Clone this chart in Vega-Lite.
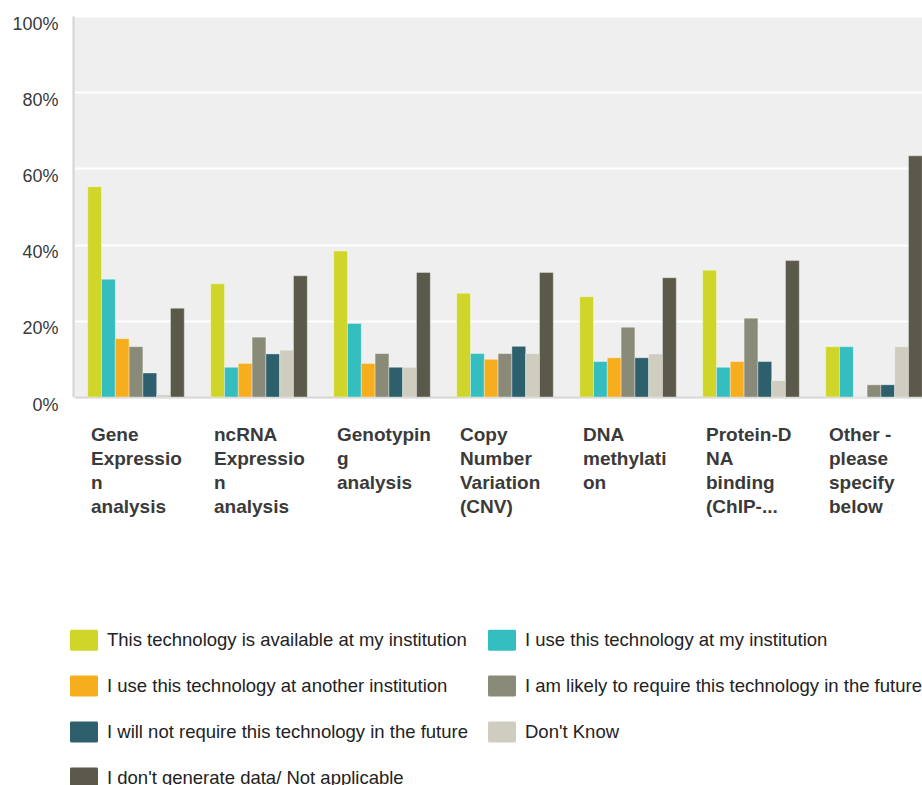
{
  "$schema": "https://vega.github.io/schema/vega-lite/v6.json",
  "width": 849,
  "height": 381,
  "autosize": {"type": "none"},
  "padding": {"left": 73, "top": 16, "right": 0, "bottom": 388},
  "background": "#ffffff",
  "config": {
    "font": "Liberation Sans",
    "view": {"fill": "#efefef", "stroke": null}
  },
  "data": {
    "values": [
      {"cat": "Gene Expression analysis", "s": "This technology is available at my institution", "v": 55.2},
      {"cat": "Gene Expression analysis", "s": "I use this technology at my institution", "v": 30.9},
      {"cat": "Gene Expression analysis", "s": "I use this technology at another institution", "v": 15.3},
      {"cat": "Gene Expression analysis", "s": "I am likely to require this technology in the future", "v": 13.2},
      {"cat": "Gene Expression analysis", "s": "I will not require this technology in the future", "v": 6.3},
      {"cat": "Gene Expression analysis", "s": "Don't Know", "v": 0.6},
      {"cat": "Gene Expression analysis", "s": "I don't generate data/ Not applicable", "v": 23.3},
      {"cat": "ncRNA Expression analysis", "s": "This technology is available at my institution", "v": 29.7},
      {"cat": "ncRNA Expression analysis", "s": "I use this technology at my institution", "v": 7.8},
      {"cat": "ncRNA Expression analysis", "s": "I use this technology at another institution", "v": 8.8},
      {"cat": "ncRNA Expression analysis", "s": "I am likely to require this technology in the future", "v": 15.7},
      {"cat": "ncRNA Expression analysis", "s": "I will not require this technology in the future", "v": 11.3},
      {"cat": "ncRNA Expression analysis", "s": "Don't Know", "v": 12.3},
      {"cat": "ncRNA Expression analysis", "s": "I don't generate data/ Not applicable", "v": 31.8},
      {"cat": "Genotyping analysis", "s": "This technology is available at my institution", "v": 38.3},
      {"cat": "Genotyping analysis", "s": "I use this technology at my institution", "v": 19.3},
      {"cat": "Genotyping analysis", "s": "I use this technology at another institution", "v": 8.8},
      {"cat": "Genotyping analysis", "s": "I am likely to require this technology in the future", "v": 11.4},
      {"cat": "Genotyping analysis", "s": "I will not require this technology in the future", "v": 7.8},
      {"cat": "Genotyping analysis", "s": "Don't Know", "v": 7.8},
      {"cat": "Genotyping analysis", "s": "I don't generate data/ Not applicable", "v": 32.7},
      {"cat": "Copy Number Variation (CNV)", "s": "This technology is available at my institution", "v": 27.2},
      {"cat": "Copy Number Variation (CNV)", "s": "I use this technology at my institution", "v": 11.4},
      {"cat": "Copy Number Variation (CNV)", "s": "I use this technology at another institution", "v": 9.9},
      {"cat": "Copy Number Variation (CNV)", "s": "I am likely to require this technology in the future", "v": 11.4},
      {"cat": "Copy Number Variation (CNV)", "s": "I will not require this technology in the future", "v": 13.3},
      {"cat": "Copy Number Variation (CNV)", "s": "Don't Know", "v": 11.4},
      {"cat": "Copy Number Variation (CNV)", "s": "I don't generate data/ Not applicable", "v": 32.7},
      {"cat": "DNA methylation", "s": "This technology is available at my institution", "v": 26.3},
      {"cat": "DNA methylation", "s": "I use this technology at my institution", "v": 9.3},
      {"cat": "DNA methylation", "s": "I use this technology at another institution", "v": 10.3},
      {"cat": "DNA methylation", "s": "I am likely to require this technology in the future", "v": 18.3},
      {"cat": "DNA methylation", "s": "I will not require this technology in the future", "v": 10.3},
      {"cat": "DNA methylation", "s": "Don't Know", "v": 11.3},
      {"cat": "DNA methylation", "s": "I don't generate data/ Not applicable", "v": 31.3},
      {"cat": "Protein-DNA binding (ChIP-...", "s": "This technology is available at my institution", "v": 33.3},
      {"cat": "Protein-DNA binding (ChIP-...", "s": "I use this technology at my institution", "v": 7.8},
      {"cat": "Protein-DNA binding (ChIP-...", "s": "I use this technology at another institution", "v": 9.3},
      {"cat": "Protein-DNA binding (ChIP-...", "s": "I am likely to require this technology in the future", "v": 20.7},
      {"cat": "Protein-DNA binding (ChIP-...", "s": "I will not require this technology in the future", "v": 9.3},
      {"cat": "Protein-DNA binding (ChIP-...", "s": "Don't Know", "v": 4.3},
      {"cat": "Protein-DNA binding (ChIP-...", "s": "I don't generate data/ Not applicable", "v": 35.8},
      {"cat": "Other - please specify below", "s": "This technology is available at my institution", "v": 13.2},
      {"cat": "Other - please specify below", "s": "I use this technology at my institution", "v": 13.2},
      {"cat": "Other - please specify below", "s": "I use this technology at another institution", "v": 0},
      {"cat": "Other - please specify below", "s": "I am likely to require this technology in the future", "v": 3.2},
      {"cat": "Other - please specify below", "s": "I will not require this technology in the future", "v": 3.2},
      {"cat": "Other - please specify below", "s": "Don't Know", "v": 13.2},
      {"cat": "Other - please specify below", "s": "I don't generate data/ Not applicable", "v": 63.3}
    ]
  },
  "mark": {"type": "bar", "stroke": "#ffffff", "strokeOpacity": 0.35, "strokeWidth": 1},
  "encoding": {
    "x": {
      "field": "cat",
      "type": "nominal",
      "sort": null,
      "scale": {"range": [1.5, 862.5], "paddingInner": 0, "paddingOuter": 0},
      "axis": {
        "title": null,
        "ticks": false,
        "domain": true,
        "domainColor": "#d4d4d4",
        "domainWidth": 2,
        "labelAngle": 0,
        "labelAlign": "left",
        "labelBaseline": "top",
        "labelOffset": -45,
        "labelPadding": 28,
        "labelFont": "Liberation Sans",
        "labelFontWeight": "bold",
        "labelFontSize": 19,
        "labelLineHeight": 24,
        "labelColor": "#3a3a3a",
        "labelLimit": 0,
        "labelOverlap": false,
        "labelExpr": "datum.value == 'Gene Expression analysis' ? ['Gene','Expressio','n','analysis'] : datum.value == 'ncRNA Expression analysis' ? ['ncRNA','Expressio','n','analysis'] : datum.value == 'Genotyping analysis' ? ['Genotypin','g','analysis'] : datum.value == 'Copy Number Variation (CNV)' ? ['Copy','Number','Variation','(CNV)'] : datum.value == 'DNA methylation' ? ['DNA','methylati','on'] : datum.value == 'Protein-DNA binding (ChIP-...' ? ['Protein-D','NA','binding','(ChIP-...'] : ['Other -','please','specify','below']"
      }
    },
    "xOffset": {
      "field": "s",
      "type": "nominal",
      "sort": null,
      "scale": {"paddingInner": 0, "paddingOuter": 0.957}
    },
    "y": {
      "field": "v",
      "type": "quantitative",
      "scale": {"domain": [0, 100], "nice": false},
      "axis": {
        "title": null,
        "values": [0, 20, 40, 60, 80, 100],
        "labelExpr": "datum.value + '%'",
        "ticks": false,
        "domain": true,
        "domainColor": "#d4d4d4",
        "domainWidth": 2,
        "grid": true,
        "gridColor": "#ffffff",
        "gridWidth": 2,
        "labelFont": "Liberation Sans",
        "labelFontSize": 18,
        "labelColor": "#3a3a3a",
        "labelPadding": 15,
        "labelOffset": 8,
        "labelFlush": false
      }
    },
    "color": {
      "field": "s",
      "type": "nominal",
      "scale": {
        "domain": [
          "This technology is available at my institution",
          "I use this technology at my institution",
          "I use this technology at another institution",
          "I am likely to require this technology in the future",
          "I will not require this technology in the future",
          "Don't Know",
          "I don't generate data/ Not applicable"
        ],
        "range": ["#cfd629", "#34bec0", "#f6ae1f", "#8a8a78", "#2e5f6c", "#cecdbf", "#5b5a4a"]
      },
      "legend": {
        "title": null,
        "orient": "none",
        "direction": "horizontal",
        "legendX": -3,
        "legendY": 610,
        "columns": 2,
        "columnPadding": 20,
        "rowPadding": 21,
        "padding": 0,
        "symbolType": "M-0.9,-0.75H0.9Q1,-0.75 1,-0.65V0.65Q1,0.75 0.9,0.75H-0.9Q-1,0.75 -1,0.65V-0.65Q-1,-0.75 -0.9,-0.75Z",
        "symbolSize": 784,
        "symbolStrokeWidth": 0,
        "symbolOpacity": 1,
        "labelFont": "Liberation Sans",
        "labelFontSize": 18.5,
        "labelColor": "#222222",
        "labelOffset": 9,
        "labelLimit": 600
      }
    }
  }
}
